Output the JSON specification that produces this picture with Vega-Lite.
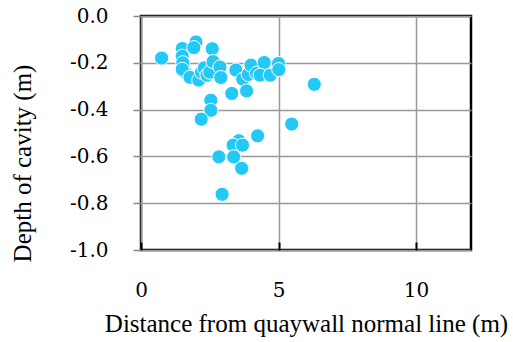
{
  "$schema": "https://vega.github.io/schema/vega-lite/v6.json",
  "width": 330,
  "height": 234,
  "autosize": "none",
  "padding": {"left": 141, "top": 16, "right": 42, "bottom": 92},
  "background": "white",
  "data": {"values": [
    {"x": 0.75, "y": -0.18},
    {"x": 1.5, "y": -0.139},
    {"x": 2.0, "y": -0.111},
    {"x": 1.92, "y": -0.135},
    {"x": 2.59, "y": -0.14},
    {"x": 1.5, "y": -0.172},
    {"x": 1.52, "y": -0.2},
    {"x": 1.6, "y": -0.24},
    {"x": 1.5, "y": -0.228},
    {"x": 1.78, "y": -0.262},
    {"x": 2.1, "y": -0.274},
    {"x": 2.2, "y": -0.24},
    {"x": 2.3, "y": -0.222},
    {"x": 2.4, "y": -0.253},
    {"x": 2.5, "y": -0.24},
    {"x": 2.62, "y": -0.195},
    {"x": 2.87, "y": -0.218},
    {"x": 2.9, "y": -0.263},
    {"x": 3.45, "y": -0.231},
    {"x": 3.7, "y": -0.27},
    {"x": 3.9, "y": -0.25},
    {"x": 4.0, "y": -0.21},
    {"x": 4.2, "y": -0.245},
    {"x": 4.48, "y": -0.199},
    {"x": 4.33, "y": -0.253},
    {"x": 4.7, "y": -0.253},
    {"x": 5.0, "y": -0.203},
    {"x": 5.01, "y": -0.229},
    {"x": 6.3, "y": -0.292},
    {"x": 3.3, "y": -0.331},
    {"x": 3.84, "y": -0.32},
    {"x": 2.54, "y": -0.36},
    {"x": 2.54, "y": -0.403},
    {"x": 2.19, "y": -0.441},
    {"x": 5.48, "y": -0.462},
    {"x": 4.24, "y": -0.512},
    {"x": 3.56, "y": -0.533},
    {"x": 3.35, "y": -0.552},
    {"x": 3.69, "y": -0.552},
    {"x": 2.83, "y": -0.602},
    {"x": 3.37, "y": -0.602},
    {"x": 3.66, "y": -0.651},
    {"x": 2.95, "y": -0.762}
  ]},
  "mark": {"type": "point", "filled": true, "color": "#22C9F6", "opacity": 1, "stroke": "white", "strokeWidth": 1, "size": 200},
  "encoding": {
    "x": {
      "field": "x", "type": "quantitative",
      "scale": {"domain": [0, 12], "nice": false, "zero": false},
      "axis": {
        "title": "Distance from quaywall normal line (m)",
        "values": [0, 5, 10],
        "grid": true, "gridColor": "#999999", "gridWidth": 1.5, "gridOpacity": 1,
        "domain": false,
        "ticks": true, "tickSize": -8, "tickColor": "#000000", "tickWidth": 2,
        "labelPadding": 38, "labelBaseline": "top", "labelFlush": false,
        "titlePadding": 11
      }
    },
    "y": {
      "field": "y", "type": "quantitative",
      "scale": {"domain": [-1, 0], "nice": false, "zero": false},
      "axis": {
        "title": "Depth of cavity (m)",
        "values": [0, -0.2, -0.4, -0.6, -0.8, -1.0],
        "labelExpr": "replace(format(datum.value, '.1f'), '\u2212', '-')",
        "grid": true, "gridColor": "#999999", "gridWidth": 1.5, "gridOpacity": 1,
        "domain": false,
        "ticks": true, "tickSize": 8, "tickColor": "#888888", "tickWidth": 1.5,
        "labelPadding": 25, "labelFlush": false,
        "titleX": -119, "titleY": 147, "titleBaseline": "middle", "titleAlign": "center", "titleAngle": -90
      }
    }
  },
  "config": {
    "font": "Liberation Serif",
    "axis": {
      "labelFont": "DejaVu Serif", "labelFontSize": 20, "labelColor": "#000000",
      "titleFont": "Liberation Serif", "titleFontSize": 25, "titleFontWeight": "normal", "titleColor": "#000000"
    },
    "view": {"stroke": "#000000", "strokeWidth": 2.5}
  }
}
